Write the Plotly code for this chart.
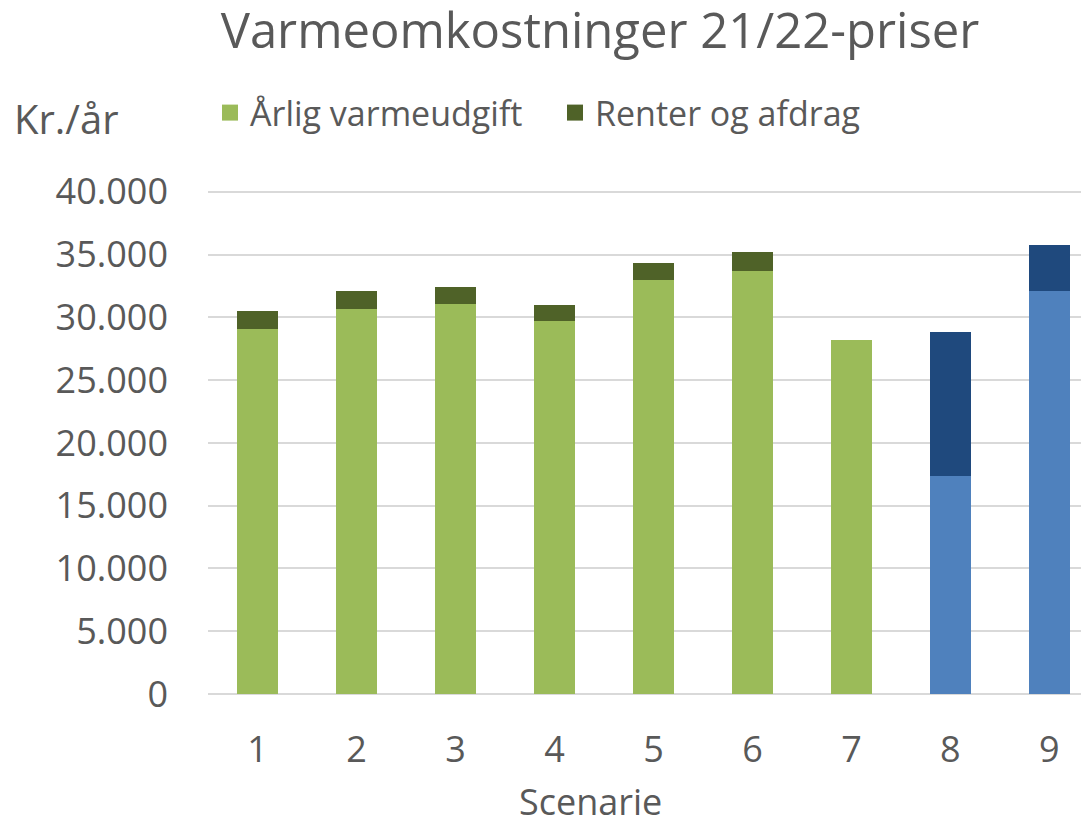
import plotly.graph_objects as go

scenarier = [1, 2, 3, 4, 5, 6, 7, 8, 9]
tick_labels = ["1", "2", "3", "4", "5", "6", "7", "8", "9"]
aarlig_varmeudgift = [29100, 30700, 31100, 29700, 33000, 33700, 28200, 17350, 32100]
renter_og_afdrag = [1400, 1400, 1300, 1300, 1300, 1500, 0, 11450, 3700]

light_colors = ["#9BBB59"] * 7 + ["#4F81BD"] * 2
dark_colors = ["#4F6228"] * 7 + ["#1F497D"] * 2

FONT = "Open Sans"
GRAY = "#595959"

# page has an 8px body margin, so the figure is drawn 8px smaller
W, H = 1081, 815
L, R, T, B = 200, 0, 182, 129
PW, PH = W - L - R, H - T - B

fig = go.Figure()
fig.add_trace(go.Bar(x=scenarier, y=aarlig_varmeudgift, name="Årlig varmeudgift",
                     marker=dict(color=light_colors, line=dict(width=0)), width=0.41,
                     showlegend=False))
fig.add_trace(go.Bar(x=scenarier, y=renter_og_afdrag, name="Renter og afdrag",
                     marker=dict(color=dark_colors, line=dict(width=0)), width=0.41,
                     showlegend=False))
# legend entries
fig.add_trace(go.Scatter(x=[None], y=[None], mode="markers", name="Årlig varmeudgift",
                         marker=dict(symbol="square", size=16, color="#9BBB59")))
fig.add_trace(go.Scatter(x=[None], y=[None], mode="markers", name="Renter og afdrag",
                         marker=dict(symbol="square", size=16, color="#4F6228")))

fig.update_layout(
    barmode="stack",
    width=W, height=H,
    margin=dict(l=L, r=R, t=T, b=B, autoexpand=False),
    paper_bgcolor="white", plot_bgcolor="white",
    separators=",.",
    font=dict(family=FONT, color=GRAY),
    title=dict(text="Varmeomkostninger 21/22-priser", xref="container", x=(600 - 8) / W,
               xanchor="center", yref="container", y=1 - 23 / H, yanchor="middle",
               font=dict(size=49, color=GRAY, family=FONT)),
    legend=dict(orientation="h", x=(202 - L) / PW, xanchor="left",
                y=(H - B - 105) / PH, yanchor="middle",
                font=dict(size=34, color=GRAY), bgcolor="rgba(0,0,0,0)",
                traceorder="normal", entrywidthmode="pixels", entrywidth=300),
    xaxis=dict(range=[0.5, 9.4], tickmode="array", tickvals=scenarier, ticktext=tick_labels,
               showgrid=False, zeroline=False, showline=False, ticks="",
               tickfont=dict(size=36, color=GRAY), ticklabelstandoff=31),
    yaxis=dict(range=[0, 40150], tickmode="linear", tick0=0, dtick=5000, tickformat=",d",
               showgrid=True, gridcolor="#D9D9D9", gridwidth=2,
               zeroline=True, zerolinecolor="#D9D9D9", zerolinewidth=2,
               showline=False, ticks="", tickfont=dict(size=36, color=GRAY),
               ticklabelstandoff=39),
    annotations=[
        dict(text="Kr./år", xref="paper", yref="paper", x=-L / PW, xanchor="left",
             y=(H - B - 110) / PH, yanchor="middle", showarrow=False,
             font=dict(size=40, color=GRAY), xshift=4),
        dict(text="Scenarie", xref="paper", yref="paper", x=(582 - L) / PW, xanchor="center",
             y=-(793 - (H - B)) / PH, yanchor="middle", showarrow=False,
             font=dict(size=36, color=GRAY)),
    ],
)

fig.write_html("out.html")
